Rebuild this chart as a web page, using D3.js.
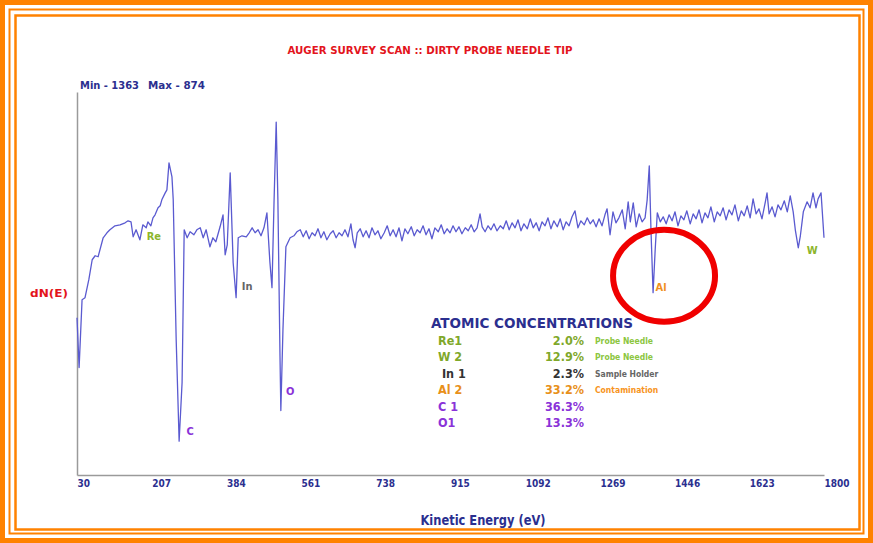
<!DOCTYPE html>
<html>
<head>
<meta charset="utf-8">
<script src="https://cdn.jsdelivr.net/npm/d3@7"></script>
<style>
  body { margin: 0; background: #fff; }
  text { font-family: "Liberation Sans Narrow", "DejaVu Sans Condensed", sans-serif; font-weight: bold; }
</style>
</head>
<body>
<div id="chart"></div>
<script>
// Set variables
const FRAME_WIDTH = 873;
const FRAME_HEIGHT = 543;
const MARGINS = {left: 77, right: 49, top: 92, bottom: 68};

// spectrum (kinetic energy eV, dN(E) counts)
const energy = [30, 35, 42, 49, 58, 66, 73, 80, 92, 101, 108, 120, 132, 144, 151, 158, 163, 170, 179, 186,
  194, 198, 205, 210, 215, 222, 227, 231, 239, 243, 248, 255, 258, 265, 272, 279, 284, 291, 298, 307,
  314, 322, 329, 336, 345, 352, 359, 369, 376, 381, 386, 393, 400, 407, 412, 421, 431, 438, 445, 452,
  459, 466, 473, 480, 487, 492, 497, 502, 506, 511, 513, 518, 525, 535, 544, 551, 559,
  566, 573, 580, 587, 594, 601, 608, 615, 622, 630, 637, 644, 651, 658, 665, 672, 679, 684, 689,
  694, 701, 708, 715, 722, 729, 736, 743, 750, 758, 765, 772, 779, 786, 793, 800, 807, 814, 822, 829,
  836, 843, 850, 857, 864, 871, 878, 886, 893, 900, 907, 914, 921, 928, 935, 942, 950, 957, 964, 971,
  978, 985, 990, 997, 1004, 1011, 1018, 1025, 1033, 1040, 1047, 1054, 1061, 1068, 1075, 1082, 1089, 1097, 1104, 1111,
  1118, 1125, 1132, 1139, 1146, 1153, 1160, 1168, 1175, 1182, 1189, 1196, 1203, 1210, 1217, 1224, 1232, 1239, 1246, 1253,
  1260, 1267, 1274, 1281, 1286, 1293, 1300, 1307, 1314, 1322, 1329, 1336, 1341, 1348, 1355, 1362, 1369, 1376, 1381, 1386,
  1390, 1395, 1400, 1405, 1412, 1419, 1426, 1433, 1440, 1447, 1454, 1461, 1468, 1475, 1483, 1490, 1497, 1504, 1511, 1518,
  1525, 1532, 1540, 1547, 1554, 1561, 1568, 1575, 1582, 1589, 1597, 1604, 1611, 1618, 1625, 1632, 1639, 1646, 1653, 1661,
  1665, 1670, 1677, 1684, 1691, 1698, 1706, 1713, 1720, 1727, 1732, 1739, 1744, 1751, 1760, 1767, 1774, 1781, 1786, 1793, 1800];
const counts = [-497, -847, -371, -357, -231, -91, -63, -70, 63, 98, 119, 147, 154, 168, 182, 175, 70, 119, 49, 154,
  133, 175, 147, 203, 224, 273, 287, 329, 378, 399, 588, 490, 329, -651, -1363, -952, 119, 63, 105, 84,
  119, 133, 63, 119, 0, 63, 35, 140, 224, -56, 14, 518, -112, -357, 63, 77, 70, 98, 133, 98,
  119, 77, 133, 238, -105, -287, 329, 874, 329, -770, -1148, -581, 0, 63, 77, 105, 119,
  70, 112, 56, 98, 77, 126, 63, 105, 49, 91, 112, 63, 98, 77, 119, 70, 161, 49, -7,
  98, 126, 70, 112, 63, 133, 84, 112, 56, 98, 147, 77, 119, 70, 133, 42, 126, 91, 140, 77,
  119, 98, 147, 84, 126, 56, 133, 105, 154, 91, 126, 98, 147, 105, 140, 91, 133, 112, 154, 105,
  133, 231, 140, 105, 147, 119, 161, 112, 147, 126, 182, 119, 168, 133, 189, 112, 161, 126, 196, 133,
  168, 112, 175, 147, 203, 126, 182, 140, 196, 119, 175, 147, 210, 252, 133, 182, 154, 203, 161, 189,
  140, 196, 147, 224, 266, 84, 245, 168, 203, 259, 126, 315, 175, 308, 140, 231, 175, 203, 329, 567,
  119, -322, -21, 238, 175, 210, 161, 224, 182, 245, 147, 217, 189, 252, 161, 231, 196, 259, 168, 238,
  203, 280, 175, 245, 217, 273, 189, 259, 224, 294, 182, 252, 217, 287, 203, 336, 231, 266, 196, 315,
  378, 231, 280, 210, 294, 259, 322, 245, 357, 245, 119, -7, 77, 245, 315, 273, 378, 273, 336, 378, 63];

const xTicks = [30, 207, 384, 561, 738, 915, 1092, 1269, 1446, 1623, 1800];

// peak labels
const peakNames = ["Re", "C", "In", "O", "Al", "W"];
const peakEnergy = [212, 298, 433, 535, 1414, 1772];
const peakCounts = [77, -1295, -273, -1015, -280, -21];
const peakColors = ["#8cb52c", "#8a32d8", "#666666", "#8a32d8", "#f0901e", "#8cb52c"];

// atomic concentrations table
const elements = ["Re1", "W 2", " In 1", "Al 2", "C 1", "O1"];
const percents = ["2.0%", "12.9%", "2.3%", "33.2%", "36.3%", "13.3%"];
const notes = ["Probe Needle", "Probe Needle", "Sample Holder", "Contamination", "", ""];
const rowColors = ["#7fa82a", "#7fa82a", "#333333", "#e8901a", "#8a32d8", "#8a32d8"];
const noteColors = ["#8cc63f", "#8cc63f", "#666666", "#f7941d", "#000", "#000"];

const ORANGE = "#ff8200";
const NAVY = "#2b2f8f";

const svg = d3.select("#chart")
  .append("svg")
    .attr("width", FRAME_WIDTH)
    .attr("height", FRAME_HEIGHT);

// orange frame (three nested borders)
svg.append("rect").attr("x", 2.5).attr("y", 2.5).attr("width", 868).attr("height", 538)
  .attr("fill", "none").attr("stroke", ORANGE).attr("stroke-width", 5);
svg.append("rect").attr("x", 9.5).attr("y", 9.5).attr("width", 854).attr("height", 524)
  .attr("fill", "none").attr("stroke", ORANGE).attr("stroke-width", 2);
svg.append("rect").attr("x", 15.5).attr("y", 15.5).attr("width", 844).attr("height", 514)
  .attr("fill", "none").attr("stroke", ORANGE).attr("stroke-width", 2.5);

const X_SCALE = d3.scaleLinear()
  .domain([30, 1800])
  .range([MARGINS.left, FRAME_WIDTH - MARGINS.right]);
const Y_SCALE = d3.scaleLinear()
  .domain([-1600, 1085])
  .range([FRAME_HEIGHT - MARGINS.bottom, MARGINS.top]);

// y axis line
svg.append("g")
  .attr("transform", "translate(" + MARGINS.left + ",0)")
  .call(d3.axisLeft(Y_SCALE).tickValues([]).tickSizeOuter(0))
  .select(".domain").attr("stroke", "#9a9a9a").attr("stroke-width", 1.5);

// x axis
const xAxis = svg.append("g")
  .attr("transform", "translate(0," + (FRAME_HEIGHT - MARGINS.bottom) + ")")
  .call(d3.axisBottom(X_SCALE).tickValues(xTicks).tickFormat(d3.format("d")).tickSize(0).tickPadding(5));
xAxis.select(".domain").attr("stroke", "#9a9a9a").attr("stroke-width", 1.5);
xAxis.selectAll("text")
  .attr("text-anchor", "start")
  .attr("fill", NAVY)
  .attr("font-size", "10px")
  .attr("font-family", "'Liberation Sans Narrow', 'DejaVu Sans Condensed', sans-serif")
  .attr("font-weight", "bold");

// spectrum line
const pts = energy.map((e, i) => [e, counts[i]]);
svg.append("path")
  .datum(pts)
  .attr("fill", "none")
  .attr("stroke", "#5a5ad0")
  .attr("stroke-width", 1.3)
  .attr("stroke-linejoin", "round")
  .attr("d", d3.line().x(d => X_SCALE(d[0])).y(d => Y_SCALE(d[1])));

// peak labels
svg.selectAll(".peak")
  .data(peakNames)
  .enter()
  .append("text")
    .attr("x", (d, i) => X_SCALE(peakEnergy[i]))
    .attr("y", (d, i) => Y_SCALE(peakCounts[i]))
    .attr("dy", "0.35em")
    .attr("text-anchor", "middle")
    .attr("font-size", "11px")
    .attr("fill", (d, i) => peakColors[i])
    .text(d => d);

// titles
svg.append("text").attr("x", 430).attr("y", 54).attr("text-anchor", "middle")
  .attr("font-size", "10.5px").attr("fill", "#e3141c")
  .attr("textLength", 285).attr("lengthAdjust", "spacingAndGlyphs")
  .text("AUGER SURVEY SCAN :: DIRTY PROBE NEEDLE TIP");
svg.append("text").attr("x", 80).attr("y", 89).attr("font-size", "10.5px").attr("fill", NAVY)
  .attr("textLength", 59).attr("lengthAdjust", "spacingAndGlyphs").text("Min - 1363");
svg.append("text").attr("x", 148).attr("y", 89).attr("font-size", "10.5px").attr("fill", NAVY)
  .attr("textLength", 57).attr("lengthAdjust", "spacingAndGlyphs").text("Max - 874");
svg.append("text").attr("x", 30).attr("y", 297).attr("font-size", "10.5px").attr("fill", "#e3141c")
  .attr("textLength", 38).attr("lengthAdjust", "spacingAndGlyphs").text("dN(E)");
svg.append("text").attr("x", 483).attr("y", 525).attr("text-anchor", "middle")
  .attr("font-size", "14px").attr("fill", NAVY)
  .attr("textLength", 125).attr("lengthAdjust", "spacingAndGlyphs").text("Kinetic Energy (eV)");

// atomic concentrations
svg.append("text").attr("x", 431).attr("y", 328).attr("font-size", "14px").attr("fill", NAVY)
  .attr("font-family", "'Open Sans', sans-serif")
  .attr("textLength", 202).attr("lengthAdjust", "spacingAndGlyphs").text("ATOMIC CONCENTRATIONS");

const ROW_Y = d3.scaleLinear().domain([0, 5]).range([344.5, 427]);
const rows = svg.selectAll(".row").data(elements).enter().append("g")
  .attr("transform", (d, i) => "translate(0," + ROW_Y(i) + ")");
rows.append("text").attr("x", 438).attr("font-size", "12.5px")
  .attr("font-family", "'Open Sans', sans-serif").attr("font-weight", "normal")
  .attr("xml:space", "preserve")
  .attr("fill", (d, i) => rowColors[i]).text(d => d);
rows.append("text").attr("x", 584).attr("text-anchor", "end").attr("font-size", "12.5px")
  .attr("font-family", "'Open Sans', sans-serif").attr("font-weight", "normal")
  .attr("fill", (d, i) => rowColors[i]).text((d, i) => percents[i]);
rows.append("text").attr("x", 595).attr("y", -1).attr("font-size", "8.5px")
  .attr("font-family", "'Open Sans', sans-serif").attr("font-weight", "normal")
  .attr("fill", (d, i) => noteColors[i]).text((d, i) => notes[i]);

// red circle around Al peak
svg.append("ellipse")
  .attr("cx", X_SCALE(1421)).attr("cy", Y_SCALE(-203))
  .attr("rx", 51).attr("ry", 46)
  .attr("fill", "none").attr("stroke", "#f00000").attr("stroke-width", 6);
</script>
</body>
</html>
